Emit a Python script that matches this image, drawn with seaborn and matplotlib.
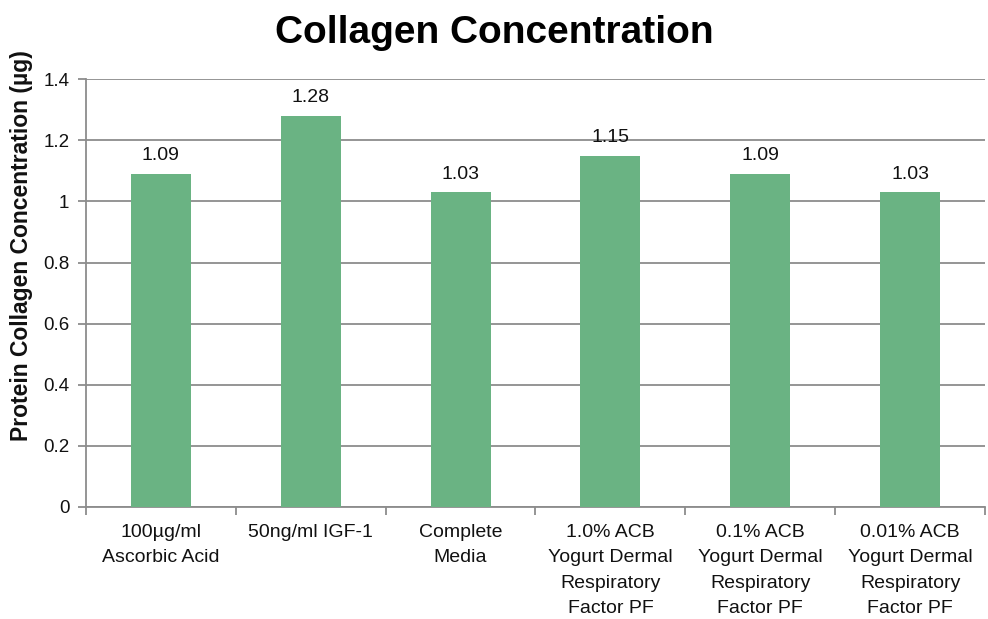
import numpy as np
import pandas as pd
import seaborn as sns
import matplotlib.pyplot as plt

# Данные
categories = ['100µg/ml\nAscorbic Acid', '50ng/ml IGF-1', 'Complete\nMedia',
              '1.0% ACB\nYogurt Dermal\nRespiratory\nFactor PF',
              '0.1% ACB\nYogurt Dermal\nRespiratory\nFactor PF',
              '0.01% ACB\nYogurt Dermal\nRespiratory\nFactor PF']
values = [1.09, 1.28, 1.03, 1.15, 1.09, 1.03]
y_ticks = [0, 0.2, 0.4, 0.6, 0.8, 1, 1.2, 1.4]
y_tick_labels = ['0', '0.2', '0.4', '0.6', '0.8', '1', '1.2', '1.4']

df = pd.DataFrame({'cat': categories, 'val': values})

sns.set_style('white')
plt.rcParams['font.family'] = ['Liberation Sans', 'DejaVu Sans']

fig = plt.figure(figsize=(9.88, 6.19), dpi=100)
ax = fig.add_axes([0.087, 0.181, 0.91, 0.691])

grid_col = '#8c8c8c'
txt_col = '#111111'
sns.barplot(data=df, x='cat', y='val', color='#6ab383', width=0.4,
            saturation=1, linewidth=0, ax=ax, zorder=3)

ax.set_ylim(0, 1.4)
ax.set_xlim(-0.5, len(categories) - 0.5)
ax.set_yticks(y_ticks)
ax.set_yticklabels(y_tick_labels, fontsize=13.5, color=txt_col)
ax.yaxis.grid(True, color=grid_col, linewidth=1.3, zorder=0)
ax.set_axisbelow(True)

# подписи по оси X
ax.set_xticks(range(len(categories)))
ax.set_xticklabels(categories, fontsize=14, color=txt_col,
                   linespacing=1.65, va='top')
ax.tick_params(axis='x', which='major', length=0, pad=12)
ax.set_xticks(np.arange(-0.5, len(categories), 1), minor=True)
ax.tick_params(axis='x', which='minor', bottom=True, length=6, width=1.3,
               color=grid_col, direction='out')
ax.tick_params(axis='y', left=True, length=6, width=1.3, color=grid_col,
               direction='out', pad=6)

for s in ['top', 'right']:
    ax.spines[s].set_visible(False)
for s in ['left', 'bottom']:
    ax.spines[s].set_color(grid_col)
    ax.spines[s].set_linewidth(1.3)

# значения над столбцами
for i, v in enumerate(values):
    ax.annotate(f'{v:.2f}', (i, v), xytext=(0, 7), textcoords='offset points',
                ha='center', va='bottom', fontsize=14, color=txt_col)

ax.set_xlabel('')
ax.set_ylabel('Protein Collagen Concentration (µg)', fontsize=16.5,
              fontweight='bold', color=txt_col)
ax.yaxis.set_label_coords(-0.059, 0.61)
fig.suptitle('Collagen Concentration', fontsize=28, fontweight='bold',
             y=0.975, color='black')

plt.savefig('out.png', dpi=100)
